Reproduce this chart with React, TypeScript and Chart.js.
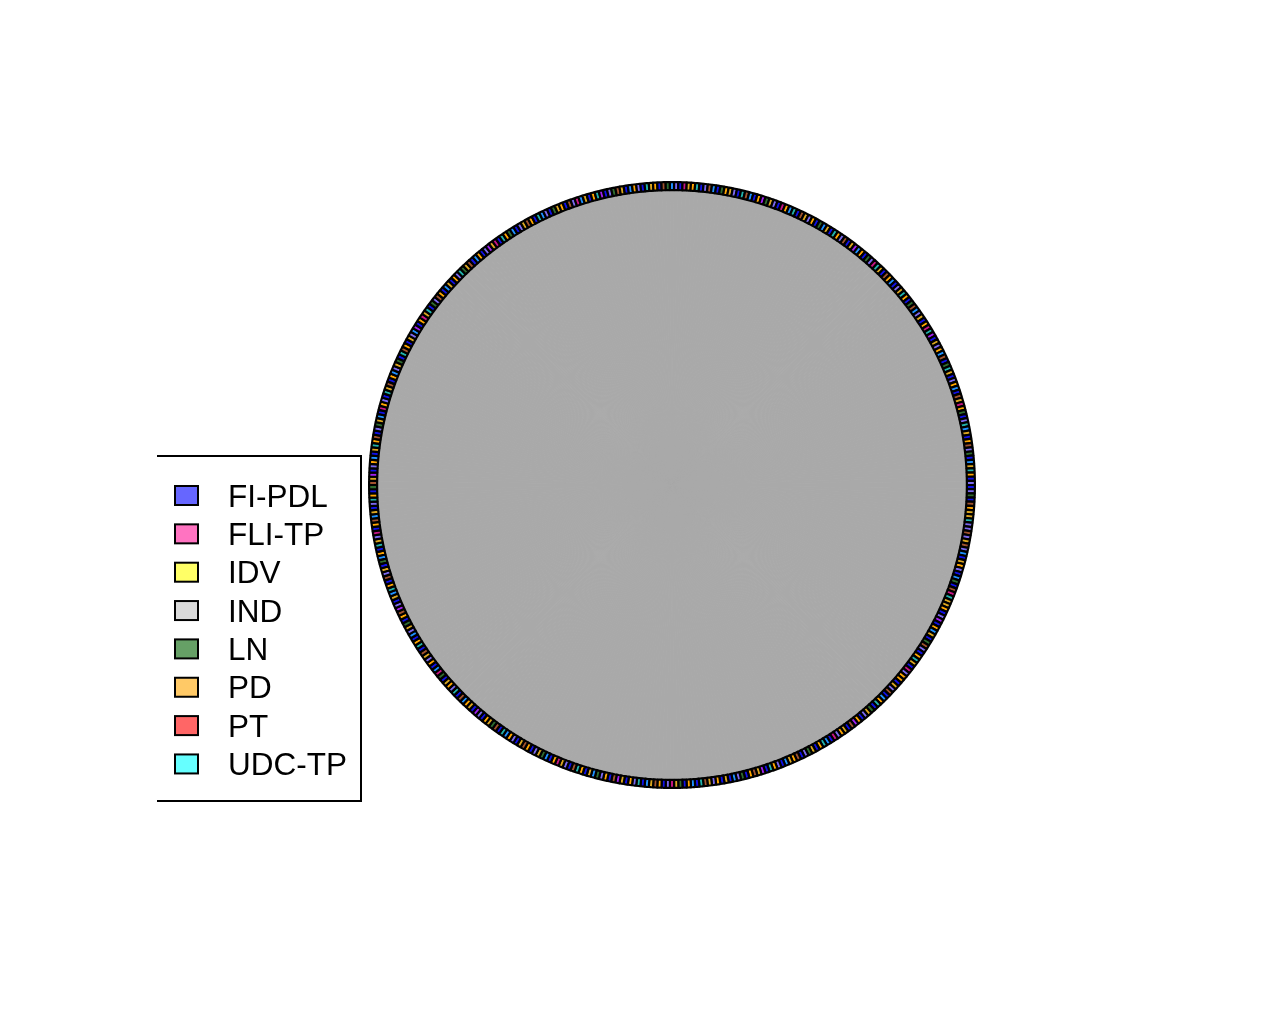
import React, { useEffect, useRef } from "react";
import { Chart, registerables } from "chart.js";

Chart.register(...registerables);

// Legend categories and colours (as shown in the reference legend)
const legendLabels = ["FI-PDL", "FLI-TP", "IDV", "IND", "LN", "PD", "PT", "UDC-TP"];
const legendColors = ["#6666FF", "#FF73C1", "#FFFF66", "#D9D9D9", "#66A066", "#FFC966", "#FF6666", "#66FFFF"];

// Each slice of the pie is one record (weight 1); its rim colour code read approx. from the picture
const sliceCodes =
  "BSDBNOGGTSSNSGNSCBGOSBCDBNMTGGOBSPBOCGBDNSBOTGBMSO" +
  "OBGSNBCOTBDGSBOPNBGOSMBCTOBGDSBNOGCBSOTBPGNOBDSCBG" +
  "BOSGNTBCOBDGMSBONGCBTSOBGPNBOSDCGBOTNBSGMOBCDGSBON" +
  "GBSOCTBNDGOBSPBGOCNBTSOGBDMCBOSGNBTOBCSGDBONPSBGCT" +
  "OBNSGBDCOBTGSMBONCGBSTOBDNGPBSOCBGTONBSDGCBMOSBTGN" +
  "BOCSGDBTNOBGSCPBOMGTBDSNOBCGBOSTDGNBCOBSPGMBTODCBS" +
  "GNOBTCSBDGOBNSMCGBOTPBSDNGBCOSBTGOBNDCSBMGOTBSNCBD" +
  "OGSBTNCBOPDGSBMOCTBNGSOBDCGBTOSNBGPCOBDSMTGBNOCBSG" +
  "TOBDNCSGBOMTPBGSOCNBDTGBSOCBNGMODBSTCGBONSDBCGTOBS";
const sliceWeight = 1;

const rimPalette: Record<string, string> = {
  B: "#1010E8",
  O: "#FFA500",
  S: "#7B68EE",
  P: "#A020F0",
  G: "#DAA520",
  T: "#20B2AA",
  N: "#A0522D",
  D: "#2E6B2E",
  M: "#C71585",
  C: "#1E90FF",
};

const INNER_GREY = "#A9A9A9";

export default function App() {
  const canvasRef = useRef<HTMLCanvasElement | null>(null);

  useEffect(() => {
    const canvas = canvasRef.current;
    if (!canvas) return;
    const codes = sliceCodes.split("");
    const values = codes.map(() => sliceWeight);
    const rimColors = codes.map((c) => rimPalette[c]);

    const legendPlugin = {
      id: "boxLegend",
      afterDraw(chart: any) {
        const ctx = chart.ctx as CanvasRenderingContext2D;
        ctx.save();
        ctx.strokeStyle = "#000";
        ctx.lineWidth = 2;
        ctx.beginPath();
        ctx.moveTo(157, 456);
        ctx.lineTo(361, 456);
        ctx.lineTo(361, 801);
        ctx.lineTo(157, 801);
        ctx.stroke();
        ctx.font = "31.5px 'Liberation Sans', Arial, sans-serif";
        ctx.textBaseline = "alphabetic";
        ctx.textAlign = "left";
        legendLabels.forEach((lab, i) => {
          const cy = 495.5 + i * 38.35;
          ctx.fillStyle = legendColors[i];
          ctx.fillRect(175, cy - 9.5, 23, 19);
          ctx.lineWidth = 2;
          ctx.strokeStyle = "#000";
          ctx.strokeRect(175, cy - 9.5, 23, 19);
          ctx.fillStyle = "#000";
          ctx.fillText(lab, 228, cy + 11);
        });
        ctx.restore();
      },
    };

    const chart = new Chart(canvas, {
      type: "doughnut",
      data: {
        labels: codes.map((c, i) => `${c}${i + 1}`),
        datasets: [
          {
            data: values,
            backgroundColor: rimColors,
            borderColor: "#000000",
            borderWidth: 2.2,
            weight: 8,
          } as any,
          {
            data: values,
            backgroundColor: INNER_GREY,
            borderColor: INNER_GREY,
            borderWidth: 1,
            weight: 294,
          } as any,
        ],
      },
      options: {
        responsive: false,
        animation: false,
        events: [],
        cutout: 0,
        rotation: 90,
        layout: { padding: { left: 368, right: 292, top: 181, bottom: 223 } },
        plugins: {
          legend: { display: false },
          tooltip: { enabled: false },
        },
      } as any,
      plugins: [legendPlugin],
    });
    return () => chart.destroy();
  }, []);

  return (
    <div style={{ position: "fixed", left: 0, top: 0, width: 1268, height: 1012, background: "#fff" }}>
      <canvas ref={canvasRef} width={1268} height={1012} style={{ display: "block" }} />
    </div>
  );
}
